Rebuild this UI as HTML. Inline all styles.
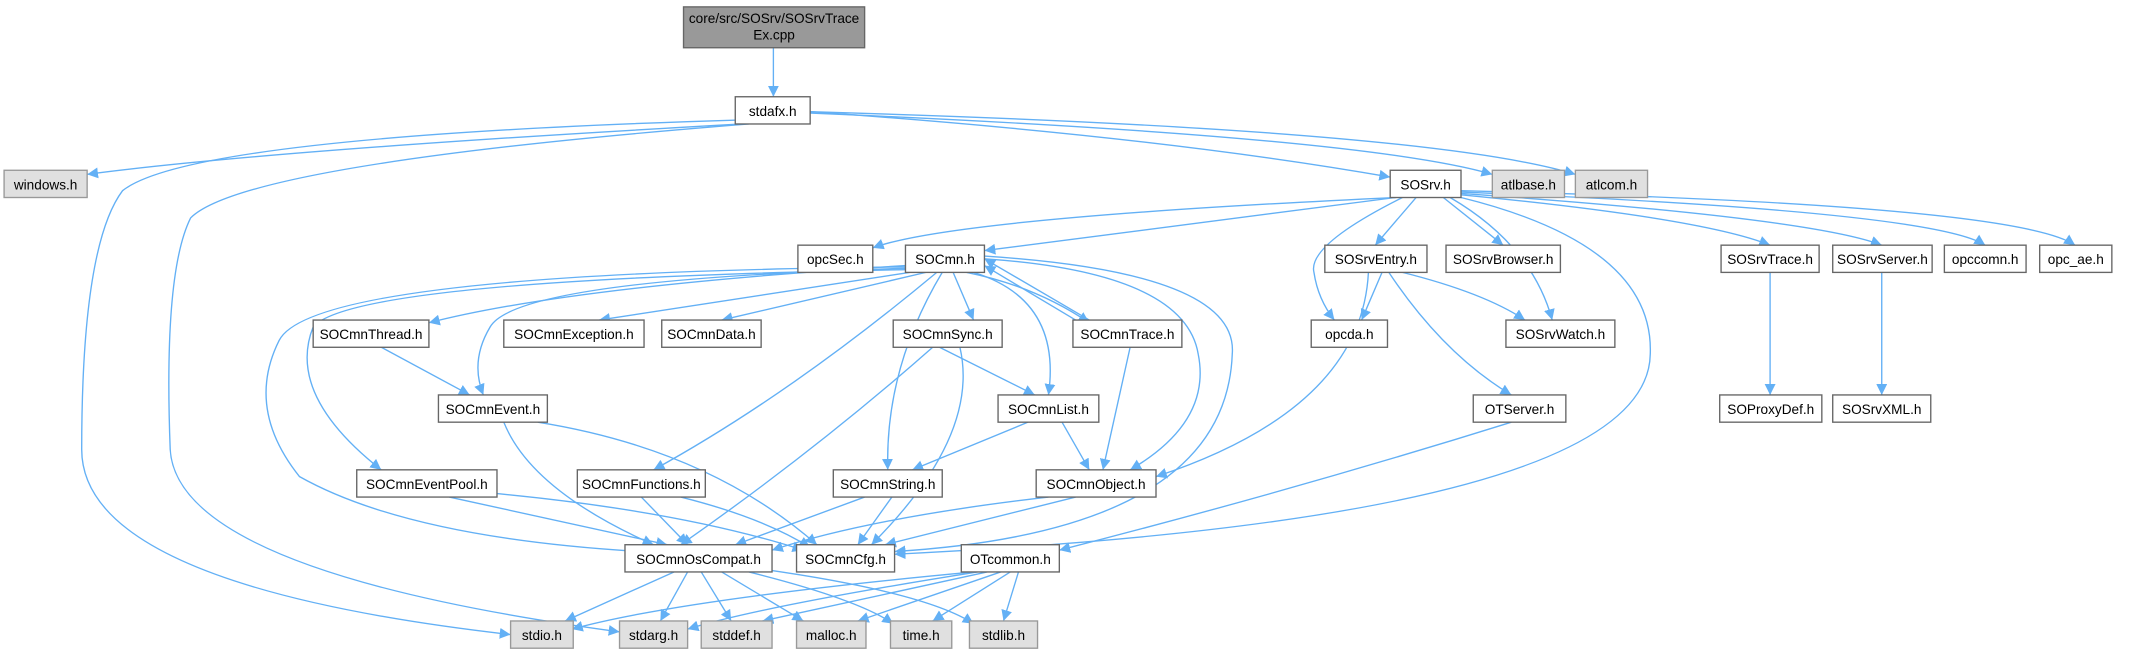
<!DOCTYPE html>
<html><head><meta charset="utf-8"><style>
html,body{margin:0;padding:0;background:#fff;}
svg{display:block;}
text{font-family:"Liberation Sans",sans-serif;font-size:10px;fill:#000;}
.n{fill:#fff;stroke:#666;stroke-width:1;}
.g{fill:#e0e0e0;stroke:#999;stroke-width:1;}
.e{fill:none;stroke:#63b0f5;stroke-width:1;marker-end:url(#a);}
</style></head><body>
<svg width="2135" height="651" viewBox="0 0 1568 478" xmlns="http://www.w3.org/2000/svg">
<defs><marker id="a" viewBox="0 0 10 10" refX="10" refY="5" markerWidth="8" markerHeight="8" orient="auto" markerUnits="userSpaceOnUse"><path d="M0,0 L10,5 L0,10 z" fill="#63b0f5"/></marker></defs>
<g>
<path class="e" d="M568,35 L568,71"/>
<path class="e" d="M545,91 Q200,110 64,128"/>
<path class="e" d="M595,82 Q850,100 1021,130"/>
<path class="e" d="M595,83 Q1000,100 1096,128"/>
<path class="e" d="M595,82 Q1050,95 1157,128"/>
<path class="e" d="M545,88 Q140,100 90,140 Q60,180 60,330 Q60,430 375,466"/>
<path class="e" d="M550,91 Q180,120 140,160 Q120,200 125,330 Q130,420 455,464"/>
<path class="e" d="M1025,145 Q700,160 641,182"/>
<path class="e" d="M1025,145 L723,184"/>
<path class="e" d="M1040,145 L1010,180"/>
<path class="e" d="M1060,145 L1104,180"/>
<path class="e" d="M1073,143 Q1250,160 1300,180"/>
<path class="e" d="M1073,142 Q1330,160 1382,180"/>
<path class="e" d="M1073,141 Q1420,155 1458,180"/>
<path class="e" d="M1073,140 Q1480,150 1524,180"/>
<path class="e" d="M1030,145 Q960,180 965,200 Q968,220 980,235"/>
<path class="e" d="M1065,145 Q1125,180 1140,235"/>
<path class="e" d="M1073,145 Q1215,180 1212,260 Q1210,380 657,407"/>
<path class="e" d="M665,195 Q420,210 315,237"/>
<path class="e" d="M668,200 L440,235"/>
<path class="e" d="M680,200 L530,235"/>
<path class="e" d="M700,200 L715,235"/>
<path class="e" d="M710,200 Q760,210 800,237"/>
<path class="e" d="M665,197 Q380,205 360,240 Q345,265 355,290"/>
<path class="e" d="M665,198 Q260,205 230,240 Q210,290 280,345"/>
<path class="e" d="M688,200 Q580,290 480,345"/>
<path class="e" d="M692,200 Q650,270 652,345"/>
<path class="e" d="M715,200 Q780,220 770,290"/>
<path class="e" d="M723,190 Q870,200 880,260 Q890,310 830,345"/>
<path class="e" d="M665,196 Q230,200 205,250 Q180,300 220,350 Q300,395 470,405"/>
<path class="e" d="M723,188 Q910,200 905,260 Q900,390 657,405"/>
<path class="e" d="M800,235 L723,190"/>
<path class="e" d="M790,235 L723,195"/>
<path class="e" d="M830,255 L810,345"/>
<path class="e" d="M1015,200 L1000,235"/>
<path class="e" d="M1030,200 Q1090,215 1120,235"/>
<path class="e" d="M1020,200 Q1060,260 1110,290"/>
<path class="e" d="M1005,200 Q1000,300 849,350"/>
<path class="e" d="M1300,200 L1300,290"/>
<path class="e" d="M1382,200 L1382,290"/>
<path class="e" d="M280,255 L345,290"/>
<path class="e" d="M370,310 Q390,360 480,400"/>
<path class="e" d="M395,310 Q520,330 600,400"/>
<path class="e" d="M690,255 L760,290"/>
<path class="e" d="M685,255 Q600,330 500,400"/>
<path class="e" d="M705,255 Q720,320 640,400"/>
<path class="e" d="M755,310 L670,345"/>
<path class="e" d="M780,310 L800,345"/>
<path class="e" d="M330,365 L490,400"/>
<path class="e" d="M360,362 Q500,375 590,404"/>
<path class="e" d="M471,365 L505,400"/>
<path class="e" d="M500,365 Q560,380 595,402"/>
<path class="e" d="M635,365 L540,400"/>
<path class="e" d="M655,365 L630,400"/>
<path class="e" d="M770,365 Q640,380 567,404"/>
<path class="e" d="M790,365 L650,400"/>
<path class="e" d="M1110,310 Q950,360 778,404"/>
<path class="e" d="M495,420 L415,456"/>
<path class="e" d="M505,420 L485,456"/>
<path class="e" d="M515,420 L537,456"/>
<path class="e" d="M530,420 L590,456"/>
<path class="e" d="M550,420 Q630,440 656,458"/>
<path class="e" d="M560,418 Q680,435 715,458"/>
<path class="e" d="M715,420 Q500,440 420,462"/>
<path class="e" d="M718,420 Q560,445 505,462"/>
<path class="e" d="M725,420 L560,456"/>
<path class="e" d="M735,420 L630,456"/>
<path class="e" d="M742,420 L685,456"/>
<path class="e" d="M748,420 L737,456"/>
</g>
<g>
<rect x="502" y="5" width="133" height="30" fill="#999" stroke="#666"/>
<text x="568.5" y="17" text-anchor="middle">core/src/SOSrv/SOSrvTrace</text>
<text x="568.5" y="29" text-anchor="middle">Ex.cpp</text>
<rect class="n" x="540" y="71" width="55" height="20"/><text x="567.5" y="85" text-anchor="middle">stdafx.h</text>
<rect class="g" x="3" y="125" width="61" height="20"/><text x="33.5" y="139" text-anchor="middle">windows.h</text>
<rect class="n" x="1021" y="125" width="52" height="20"/><text x="1047" y="139" text-anchor="middle">SOSrv.h</text>
<rect class="g" x="1096" y="125" width="53" height="20"/><text x="1122.5" y="139" text-anchor="middle">atlbase.h</text>
<rect class="g" x="1157" y="125" width="53" height="20"/><text x="1183.5" y="139" text-anchor="middle">atlcom.h</text>
<rect class="n" x="586" y="180" width="55" height="20"/><text x="613.5" y="194" text-anchor="middle">opcSec.h</text>
<rect class="n" x="665" y="180" width="58" height="20"/><text x="694" y="194" text-anchor="middle">SOCmn.h</text>
<rect class="n" x="973" y="180" width="75" height="20"/><text x="1010.5" y="194" text-anchor="middle">SOSrvEntry.h</text>
<rect class="n" x="1062" y="180" width="84" height="20"/><text x="1104" y="194" text-anchor="middle">SOSrvBrowser.h</text>
<rect class="n" x="1264" y="180" width="72" height="20"/><text x="1300" y="194" text-anchor="middle">SOSrvTrace.h</text>
<rect class="n" x="1346" y="180" width="73" height="20"/><text x="1382.5" y="194" text-anchor="middle">SOSrvServer.h</text>
<rect class="n" x="1428" y="180" width="60" height="20"/><text x="1458" y="194" text-anchor="middle">opccomn.h</text>
<rect class="n" x="1498" y="180" width="53" height="20"/><text x="1524.5" y="194" text-anchor="middle">opc_ae.h</text>
<rect class="n" x="230" y="235" width="85" height="20"/><text x="272.5" y="249" text-anchor="middle">SOCmnThread.h</text>
<rect class="n" x="370" y="235" width="103" height="20"/><text x="421.5" y="249" text-anchor="middle">SOCmnException.h</text>
<rect class="n" x="486" y="235" width="73" height="20"/><text x="522.5" y="249" text-anchor="middle">SOCmnData.h</text>
<rect class="n" x="656" y="235" width="80" height="20"/><text x="696" y="249" text-anchor="middle">SOCmnSync.h</text>
<rect class="n" x="788" y="235" width="80" height="20"/><text x="828" y="249" text-anchor="middle">SOCmnTrace.h</text>
<rect class="n" x="963" y="235" width="56" height="20"/><text x="991" y="249" text-anchor="middle">opcda.h</text>
<rect class="n" x="1106" y="235" width="80" height="20"/><text x="1146" y="249" text-anchor="middle">SOSrvWatch.h</text>
<rect class="n" x="1263" y="290" width="75" height="20"/><text x="1300.5" y="304" text-anchor="middle">SOProxyDef.h</text>
<rect class="n" x="1346" y="290" width="72" height="20"/><text x="1382" y="304" text-anchor="middle">SOSrvXML.h</text>
<rect class="n" x="322" y="290" width="80" height="20"/><text x="362" y="304" text-anchor="middle">SOCmnEvent.h</text>
<rect class="n" x="733" y="290" width="74" height="20"/><text x="770" y="304" text-anchor="middle">SOCmnList.h</text>
<rect class="n" x="1082" y="290" width="68" height="20"/><text x="1116" y="304" text-anchor="middle">OTServer.h</text>
<rect class="n" x="262" y="345" width="103" height="20"/><text x="313.5" y="359" text-anchor="middle">SOCmnEventPool.h</text>
<rect class="n" x="424" y="345" width="94" height="20"/><text x="471" y="359" text-anchor="middle">SOCmnFunctions.h</text>
<rect class="n" x="612" y="345" width="80" height="20"/><text x="652" y="359" text-anchor="middle">SOCmnString.h</text>
<rect class="n" x="761" y="345" width="88" height="20"/><text x="805" y="359" text-anchor="middle">SOCmnObject.h</text>
<rect class="n" x="459" y="400" width="108" height="20"/><text x="513" y="414" text-anchor="middle">SOCmnOsCompat.h</text>
<rect class="n" x="585" y="400" width="72" height="20"/><text x="621" y="414" text-anchor="middle">SOCmnCfg.h</text>
<rect class="n" x="706" y="400" width="72" height="20"/><text x="742" y="414" text-anchor="middle">OTcommon.h</text>
<rect class="g" x="375" y="456" width="46" height="20"/><text x="398" y="470" text-anchor="middle">stdio.h</text>
<rect class="g" x="455" y="456" width="50" height="20"/><text x="480" y="470" text-anchor="middle">stdarg.h</text>
<rect class="g" x="515" y="456" width="52" height="20"/><text x="541" y="470" text-anchor="middle">stddef.h</text>
<rect class="g" x="585" y="456" width="51" height="20"/><text x="610.5" y="470" text-anchor="middle">malloc.h</text>
<rect class="g" x="654" y="456" width="45" height="20"/><text x="676.5" y="470" text-anchor="middle">time.h</text>
<rect class="g" x="712" y="456" width="50" height="20"/><text x="737" y="470" text-anchor="middle">stdlib.h</text>
</g>
</svg>
</body></html>
